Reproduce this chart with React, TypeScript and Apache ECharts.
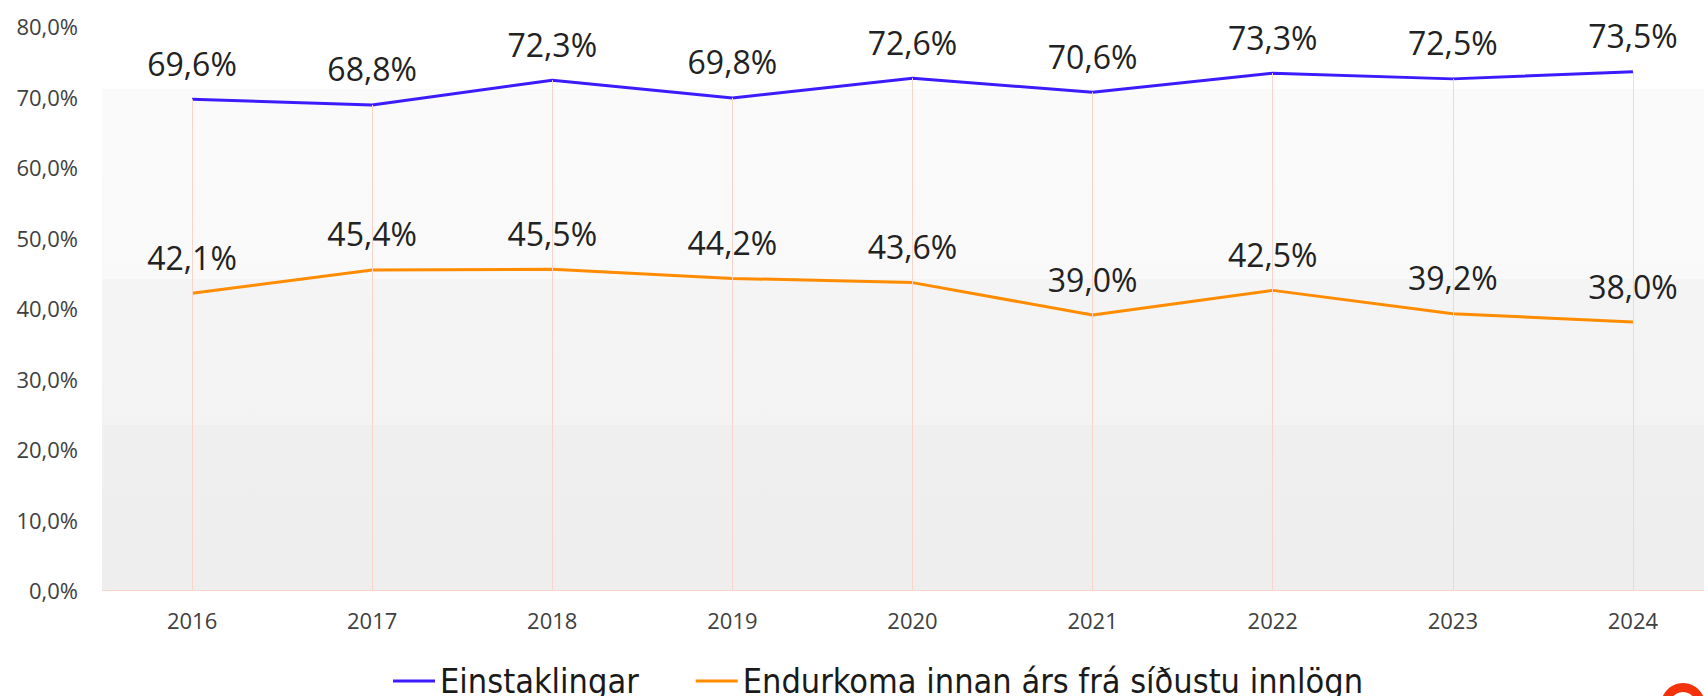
import React, { useEffect, useRef } from "react";
import * as echarts from "echarts";

const years = ["2016", "2017", "2018", "2019", "2020", "2021", "2022", "2023", "2024"];
const einstaklingar = [69.6, 68.8, 72.3, 69.8, 72.6, 70.6, 73.3, 72.5, 73.5];
const endurkoma = [42.1, 45.4, 45.5, 44.2, 43.6, 39.0, 42.5, 39.2, 38.0];
const seriesNames = ["Einstaklingar", "Endurkoma innan árs frá síðustu innlögn"];
const plotAreaTop = 71.1;

const fmt = (v: number) => v.toFixed(1).replace(".", ",") + "%";

export default function App() {
  const ref = useRef<HTMLDivElement>(null);
  useEffect(() => {
    document.body.style.margin = "0";
    if (!ref.current) return;
    const chart = echarts.init(ref.current, undefined, { renderer: "svg" });
    const dropLines = years.map((y, i) => [
      { coord: [y, 0] },
      { coord: [y, Math.max(einstaklingar[i], endurkoma[i])] },
    ]);
    const dataLabel = {
      show: true,
      position: "top",
      distance: 20,
      fontSize: 32,
      color: "#222222",
      fontFamily: "'Open Sans', sans-serif",
      formatter: (p: any) => fmt(p.value),
    };
    chart.setOption({
      animation: false,
      backgroundColor: "#ffffff",
      textStyle: { fontFamily: "'Open Sans', sans-serif" },
      grid: {
        left: 102,
        width: 1621,
        top: 26,
        bottom: 106,
        containLabel: false,
        outerBoundsMode: "none",
      },
      xAxis: {
        type: "category",
        data: years,
        boundaryGap: true,
        axisLine: { show: true, lineStyle: { color: "#f8d5cb", width: 1 } },
        axisTick: { show: false },
        splitLine: { show: false },
        axisLabel: { fontSize: 22, color: "#404040", margin: 19, fontFamily: "'Open Sans', sans-serif" },
      },
      yAxis: {
        type: "value",
        min: 0,
        max: 80,
        interval: 10,
        axisLine: { show: false },
        axisTick: { show: false },
        splitLine: { show: false },
        axisLabel: {
          fontSize: 22,
          color: "#404040",
          margin: 24,
          formatter: (v: number) => fmt(v),
          fontFamily: "'Open Sans', sans-serif",
        },
      },
      legend: {
        data: seriesNames,
        left: 388,
        top: 659,
        icon: "rect",
        itemWidth: 42,
        itemHeight: 3,
        itemGap: 57,
        textStyle: {
          fontSize: 34,
          color: "#1a1a1a",
          fontFamily: "'DejaVu Sans Condensed', sans-serif",
        },
      },
      series: [
        {
          name: "bg",
          type: "line",
          data: einstaklingar,
          showSymbol: false,
          lineStyle: { opacity: 0 },
          silent: true,
          z: 0,
          markArea: {
            silent: true,
            itemStyle: {
              color: {
                type: "linear",
                x: 0,
                y: 0,
                x2: 0,
                y2: 1,
                colorStops: [
                  { offset: 0, color: "#fafafa" },
                  { offset: 0.38, color: "#f9f9f9" },
                  { offset: 0.38, color: "#f4f4f4" },
                  { offset: 0.67, color: "#f3f3f3" },
                  { offset: 0.67, color: "#efefef" },
                  { offset: 1, color: "#eeeeee" },
                ],
              },
            },
            data: [[{ yAxis: 0 }, { yAxis: plotAreaTop }]],
          },
        },
        {
          name: "drop",
          type: "line",
          data: einstaklingar,
          showSymbol: false,
          lineStyle: { opacity: 0 },
          silent: true,
          z: 1,
          markLine: {
            silent: true,
            symbol: ["none", "none"],
            label: { show: false },
            lineStyle: { color: "#f8d5cb", width: 1, type: "solid" },
            data: dropLines,
          },
        },
        {
          name: seriesNames[1],
          type: "line",
          data: endurkoma,
          showSymbol: true,
          symbol: "circle",
          symbolSize: 0,
          z: 2,
          color: "#ff8c00",
          lineStyle: { color: "#ff8c00", width: 3 },
          label: dataLabel,
        },
        {
          name: seriesNames[0],
          type: "line",
          data: einstaklingar,
          showSymbol: true,
          symbol: "circle",
          symbolSize: 0,
          z: 3,
          color: "#3c1cff",
          lineStyle: { color: "#3c1cff", width: 3 },
          label: dataLabel,
        },
      ],
      graphic: [
        {
          type: "ring",
          shape: { cx: 1683, cy: 705, r: 22, r0: 13 },
          style: { fill: "#f4320b" },
          silent: true,
        },
      ],
    });
    return () => chart.dispose();
  }, []);
  return <div ref={ref} style={{ width: 1704, height: 696 }} />;
}
